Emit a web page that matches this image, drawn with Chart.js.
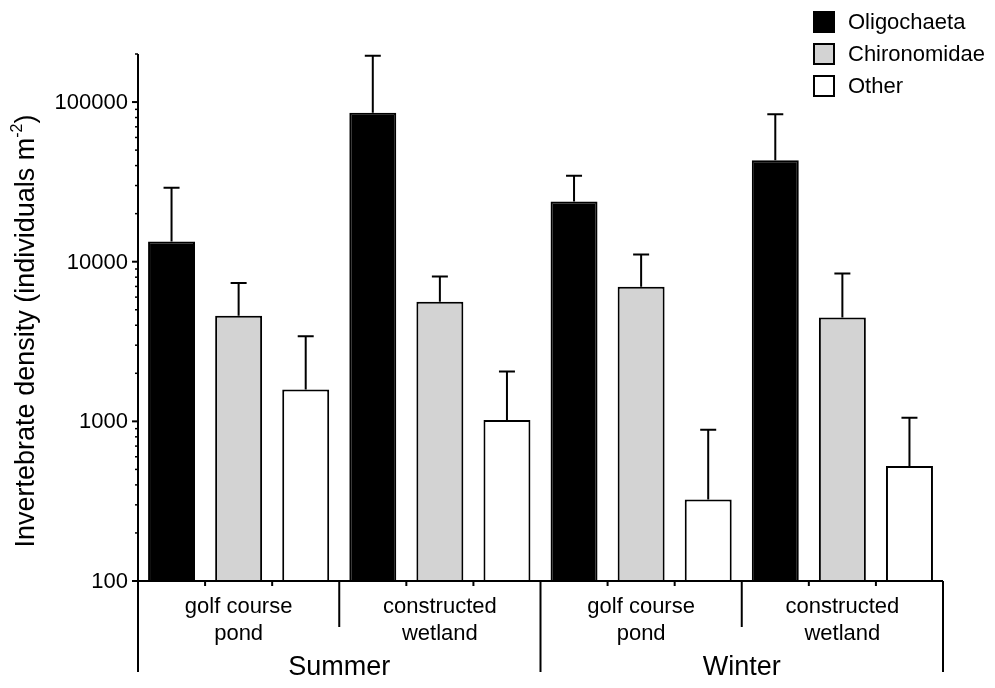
<!DOCTYPE html>
<html>
<head>
<meta charset="utf-8">
<script src="https://cdn.jsdelivr.net/npm/chart.js@4/dist/chart.umd.min.js"></script>
<style>
  html, body { margin: 0; padding: 0; background: #fff; }
  #wrap { width: 995px; height: 688px; }
</style>
</head>
<body>
<div id="wrap"><canvas id="chart" width="995" height="688"></canvas></div>
<script>
'use strict'

// sites and seasons (x axis)
var sites = [['golf course', 'pond'], ['constructed', 'wetland'], ['golf course', 'pond'], ['constructed', 'wetland']];
var seasons = ['Summer', 'Winter'];

// mean density per site, and top of the error bar
var oligochaeta = [13400, 85700, 23800, 43200];
var oligochaetaTop = [29100, 194700, 34600, 83800];
var chironomidae = [4580, 5620, 6980, 4470];
var chironomidaeTop = [7360, 8090, 11100, 8450];
var other = [1585, 1019, 324, 526];
var otherTop = [3410, 2054, 887, 1055];

var yTicks = [100, 1000, 10000, 100000];
var yMin = 100;
var yMax = 200000;

var seriesNames = ['Oligochaeta', 'Chironomidae', 'Other'];
var seriesColors = ['#000000', '#d3d3d3', '#ffffff'];
var errTops = [oligochaetaTop, chironomidaeTop, otherTop];

var FONT = '"Liberation Sans", Arial, sans-serif';

///////////////////////////////////////////////////////////////////
// draws axes, labels, legend and error bars
var drawExtras = {
  id: 'drawExtras',
  afterDatasetsDraw: function (chart) {
    var ctx = chart.ctx;
    var xs = chart.scales.x;
    var ys = chart.scales.y;
    var area = chart.chartArea;
    var catW = (area.right - area.left) / sites.length;

    ctx.save();
    ctx.strokeStyle = '#000';
    ctx.fillStyle = '#000';

    // error bars
    ctx.lineWidth = 2;
    for (var d = 0; d < chart.data.datasets.length; d++) {
      var meta = chart.getDatasetMeta(d);
      for (var i = 0; i < meta.data.length; i++) {
        var bar = meta.data[i];
        var yTop = ys.getPixelForValue(errTops[d][i]);
        ctx.beginPath();
        ctx.moveTo(bar.x, bar.y);
        ctx.lineTo(bar.x, yTop);
        ctx.moveTo(bar.x - 8, yTop);
        ctx.lineTo(bar.x + 8, yTop);
        ctx.stroke();
      }
    }

    var base = ys.getPixelForValue(yMin);

    // y axis line
    ctx.lineWidth = 2;
    ctx.beginPath();
    ctx.moveTo(area.left, ys.getPixelForValue(yMax));
    ctx.lineTo(area.left, 672);
    ctx.stroke();

    // x axis line
    ctx.beginPath();
    ctx.moveTo(area.left - 6, base);
    ctx.lineTo(area.right, base);
    ctx.stroke();

    // y ticks, major + minor
    ctx.font = '22px ' + FONT;
    ctx.textAlign = 'right';
    ctx.textBaseline = 'middle';
    for (var t = 0; t < yTicks.length; t++) {
      var py = ys.getPixelForValue(yTicks[t]);
      ctx.lineWidth = 2;
      ctx.beginPath();
      ctx.moveTo(area.left - 6, py);
      ctx.lineTo(area.left, py);
      ctx.stroke();
      ctx.fillText(String(yTicks[t]), area.left - 10, py + 1);
      ctx.lineWidth = 1.5;
      for (var m = 2; m <= 9; m++) {
        var v = yTicks[t] * m;
        if (v > yMax) break;
        var my = ys.getPixelForValue(v);
        ctx.beginPath();
        ctx.moveTo(area.left - 3, my);
        ctx.lineTo(area.left, my);
        ctx.stroke();
      }
    }

    // small ticks between bars, separators between sites / seasons
    ctx.lineWidth = 2;
    for (var c = 0; c < sites.length; c++) {
      var cx = xs.getPixelForValue(c);
      var left = cx - catW / 2;
      for (var k = 1; k < 3; k++) {
        var tx = left + k * catW / 3;
        ctx.beginPath();
        ctx.moveTo(tx, base);
        ctx.lineTo(tx, base + 5);
        ctx.stroke();
      }
      if (c % 2 === 1) {
        ctx.beginPath();
        ctx.moveTo(left, base);
        ctx.lineTo(left, 627);
        ctx.stroke();
      }
      if (c % 2 === 1 || c === sites.length - 1) {
        var rx = cx + catW / 2;
        ctx.beginPath();
        ctx.moveTo(rx, base);
        ctx.lineTo(rx, 672);
        ctx.stroke();
      }
    }

    // site labels
    ctx.font = '22px ' + FONT;
    ctx.textAlign = 'center';
    ctx.textBaseline = 'middle';
    for (var s = 0; s < sites.length; s++) {
      var sx = xs.getPixelForValue(s);
      ctx.fillText(sites[s][0], sx, 607);
      ctx.fillText(sites[s][1], sx, 634);
    }

    // season labels
    ctx.font = '27px ' + FONT;
    for (var n = 0; n < seasons.length; n++) {
      var mid = (xs.getPixelForValue(n * 2) + xs.getPixelForValue(n * 2 + 1)) / 2;
      ctx.fillText(seasons[n], mid, 668);
    }

    // y title, rotated
    ctx.save();
    ctx.translate(27, 331);
    ctx.rotate(-Math.PI / 2);
    var mainTxt = 'Invertebrate density (individuals m';
    var supTxt = '-2';
    var endTxt = ')';
    ctx.font = '27px ' + FONT;
    var w1 = ctx.measureText(mainTxt).width;
    var w3 = ctx.measureText(endTxt).width;
    ctx.font = '16px ' + FONT;
    var w2 = ctx.measureText(supTxt).width;
    var start = -(w1 + w2 + w3) / 2;
    ctx.textAlign = 'left';
    ctx.textBaseline = 'middle';
    ctx.font = '27px ' + FONT;
    ctx.fillText(mainTxt, start, 0);
    ctx.font = '16px ' + FONT;
    ctx.fillText(supTxt, start + w1, -9);
    ctx.font = '27px ' + FONT;
    ctx.fillText(endTxt, start + w1 + w2, 0);
    ctx.restore();

    // legend
    ctx.font = '22px ' + FONT;
    ctx.textAlign = 'left';
    ctx.textBaseline = 'middle';
    ctx.lineWidth = 2;
    for (var g = 0; g < seriesNames.length; g++) {
      var ly = 22 + g * 32;
      ctx.fillStyle = seriesColors[g];
      ctx.fillRect(814, ly - 10, 20, 20);
      ctx.strokeStyle = '#000';
      ctx.strokeRect(814, ly - 10, 20, 20);
      ctx.fillStyle = '#000';
      ctx.fillText(seriesNames[g], 848, ly + 1);
    }

    ctx.restore();
  }
};

///////////////////////////////////////////////////////////////////

function makeChart() {
  var ctx = document.getElementById('chart').getContext('2d');
  var seriesData = [oligochaeta, chironomidae, other];
  var datasets = [];
  for (var i = 0; i < seriesNames.length; i++) {
    datasets.push({
      label: seriesNames[i],
      data: seriesData[i],
      backgroundColor: seriesColors[i],
      borderColor: '#000',
      borderWidth: 2,
      categoryPercentage: 1.0,
      barPercentage: 0.7
    });
  }

  new Chart(ctx, {
    type: 'bar',
    data: {
      labels: sites.map(function (s) { return s.join(' '); }),
      datasets: datasets
    },
    options: {
      responsive: false,
      animation: false,
      layout: { padding: { left: 138, right: 52, top: 54, bottom: 107 } },
      plugins: {
        legend: { display: false },
        tooltip: { enabled: false }
      },
      scales: {
        x: { display: false },
        y: { type: 'logarithmic', min: yMin, max: yMax, display: false }
      }
    },
    plugins: [drawExtras]
  });
}

makeChart();
</script>
</body>
</html>
